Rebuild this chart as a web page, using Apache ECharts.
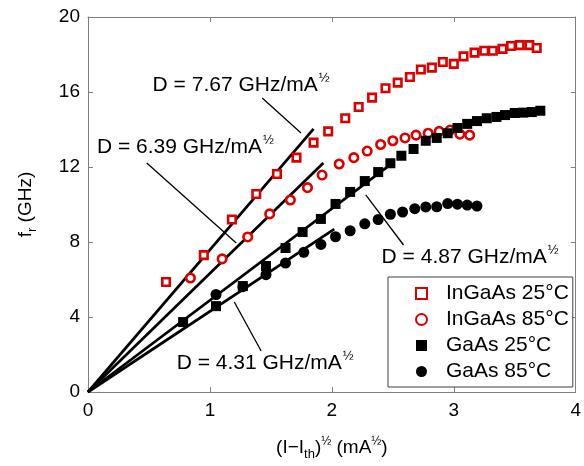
<!DOCTYPE html>
<html><head><meta charset="utf-8">
<script src="https://cdn.jsdelivr.net/npm/echarts@6/dist/echarts.min.js"></script>
<style>html,body{margin:0;padding:0;background:#fff}#c{width:584px;height:466px}</style>
</head><body><div id="c"></div>
<script>
const seriesNames = ['InGaAs 25°C', 'InGaAs 85°C', 'GaAs 25°C', 'GaAs 85°C'];

const ingaas25X = [0.64,0.95,1.18,1.38,1.55,1.71,1.85,1.97,2.11,2.22,2.33,2.44,2.54,2.64,2.73,2.82,2.91,3.00,3.08,3.17,3.25,3.32,3.40,3.47,3.54,3.62,3.68];
const ingaas25Y = [5.87,7.30,9.20,10.56,11.63,12.50,13.30,13.90,14.60,15.20,15.70,16.20,16.50,16.80,17.20,17.30,17.60,17.50,17.90,18.10,18.20,18.20,18.30,18.45,18.50,18.50,18.35];

const ingaas85X = [0.84,1.10,1.31,1.49,1.66,1.80,1.92,2.06,2.18,2.29,2.40,2.50,2.60,2.69,2.79,2.88,2.97,3.05,3.13];
const ingaas85Y = [6.08,7.10,8.27,9.50,10.24,10.90,11.57,12.16,12.50,12.85,13.20,13.40,13.55,13.70,13.80,13.90,13.97,13.75,13.70];

const gaas25X = [0.78,1.05,1.27,1.46,1.62,1.76,1.91,2.03,2.15,2.27,2.38,2.48,2.57,2.67,2.77,2.86,2.95,3.03,3.11,3.19,3.27,3.35,3.42,3.50,3.57,3.64,3.71];
const gaas25Y = [3.73,4.58,5.65,6.72,7.68,8.53,9.23,10.03,10.67,11.25,11.73,12.20,12.60,12.96,13.40,13.55,13.80,14.08,14.30,14.45,14.60,14.67,14.77,14.88,14.90,14.93,15.00];

const gaas85X = [1.05,1.27,1.46,1.62,1.77,1.91,2.03,2.15,2.27,2.38,2.48,2.58,2.68,2.77,2.86,2.95,3.03,3.11,3.19];
const gaas85Y = [5.20,5.62,6.26,6.88,7.45,7.87,8.28,8.60,8.97,9.20,9.48,9.60,9.78,9.87,9.88,10.05,10.02,9.97,9.92];

// linear fits through origin: D values and end points
const fitD = ['7.67', '6.39', '4.87', '4.31'];
const fitEndX = [1.85, 1.93, 2.51, 2.02];
const fitEndY = [14.03, 12.21, 12.27, 8.69];

// annotation label anchors (left, middle) and leader lines, in data units
const labelX = [0.53, 0.073, 2.408, 0.727];
const labelY = [16.37, 13.07, 7.20, 1.55];
const leaderFrom = [[1.429, 15.68], [0.482, 12.21], [2.278, 10.51], [1.20, 4.80]];
const leaderTo = [[1.747, 13.81], [1.216, 7.95], [2.588, 7.84], [1.42, 2.19]];

const xTicks = [0, 1, 2, 3, 4];
const yTicks = [0, 4, 8, 12, 16, 20];

const FONT = '"Liberation Sans", Arial, sans-serif';
const RED = '#dc0000';
const zip = (a, b) => a.map((v, i) => [v, b[i]]);

const chart = echarts.init(document.getElementById('c'), null, {renderer: 'canvas'});

const axisCommon = {
  axisLine: {show: true, onZero: false, lineStyle: {color: '#808080', width: 1}},
  axisTick: {show: true, inside: true, length: 5, lineStyle: {color: '#808080'}},
  splitLine: {show: false}
};

const xBase = {type: 'value', min: xTicks[0], max: xTicks[xTicks.length - 1], interval: xTicks[1] - xTicks[0]};
const yBase = {type: 'value', min: yTicks[0], max: yTicks[yTicks.length - 1], interval: yTicks[1] - yTicks[0]};

const series = [];
fitD.forEach((d, i) => {
  series.push({
    name: 'fit' + i, type: 'line', silent: true, symbol: 'none', z: 3,
    data: [[0, 0], [fitEndX[i], fitEndY[i]]],
    lineStyle: {color: '#000', width: 2.7}
  });
});
leaderFrom.forEach((p, i) => {
  series.push({
    name: 'lead' + i, type: 'line', silent: true, symbol: 'none', z: 3,
    data: [p, leaderTo[i]],
    lineStyle: {color: '#000', width: 1.3}
  });
});
series.push(
  {name: seriesNames[0], type: 'scatter', symbol: 'rect', symbolSize: 7.5, z: 4,
   data: zip(ingaas25X, ingaas25Y),
   itemStyle: {color: '#fff', borderColor: RED, borderWidth: 2.6, opacity: 1}},
  {name: seriesNames[1], type: 'scatter', symbol: 'circle', symbolSize: 8.5, z: 4,
   data: zip(ingaas85X, ingaas85Y),
   itemStyle: {color: '#fff', borderColor: RED, borderWidth: 2.6, opacity: 1}},
  {name: seriesNames[2], type: 'scatter', symbol: 'rect', symbolSize: 10, z: 4,
   data: zip(gaas25X, gaas25Y),
   itemStyle: {color: '#000', borderWidth: 0, opacity: 1}},
  {name: seriesNames[3], type: 'scatter', symbol: 'circle', symbolSize: 11, z: 4,
   data: zip(gaas85X, gaas85Y),
   itemStyle: {color: '#000', borderWidth: 0, opacity: 1}}
);

const option = {
  animation: false,
  backgroundColor: '#fff',
  textStyle: {fontFamily: FONT},
  grid: {left: 88, right: 6, top: 17, bottom: 74, show: false},
  legend: {
    data: seriesNames.map(n => ({name: n})),
    orient: 'vertical', left: 388, top: 277,
    padding: [6, 4, 5, 27],
    itemWidth: 11, itemHeight: 11, itemGap: 5,
    borderColor: '#404040', borderWidth: 1, backgroundColor: '#fff',
    formatter: n => '{t|' + n + '}',
    textStyle: {fontFamily: FONT, fontSize: 21, color: '#000', lineHeight: 20,
      rich: {t: {fontFamily: FONT, fontSize: 21, color: '#000', lineHeight: 20, padding: [0, 0, 0, 14]}}},
    selectedMode: false
  },
  xAxis: [
    Object.assign({}, xBase, axisCommon, {
      position: 'bottom',
      axisLabel: {fontFamily: FONT, fontSize: 19, color: '#000', margin: 9},
      name: '(I\u2212I{sub|th}){sup|\u00bd} (mA{sup|\u00bd})',
      nameLocation: 'middle', nameGap: 42,
      nameTextStyle: {fontFamily: FONT, fontSize: 19, color: '#000',
        rich: {sub: {fontSize: 13, fontFamily: FONT, color: '#000', padding: [14, 0, 0, 0]},
               sup: {fontSize: 12, fontFamily: FONT, color: '#000', padding: [0, 0, 12, 0]}}}
    }),
    Object.assign({}, xBase, axisCommon, {position: 'top', axisLabel: {show: false}})
  ],
  yAxis: [
    Object.assign({}, yBase, axisCommon, {
      position: 'left',
      axisLabel: {fontFamily: FONT, fontSize: 19, color: '#000', margin: 8},
      name: 'f{sub|r} (GHz)',
      nameLocation: 'middle', nameGap: 49, nameRotate: 90,
      nameTextStyle: {fontFamily: FONT, fontSize: 19, color: '#000',
        rich: {sub: {fontSize: 13, fontFamily: FONT, color: '#000', padding: [14, 0, 0, 0]}}}
    }),
    Object.assign({}, yBase, axisCommon, {position: 'right', axisLabel: {show: false}})
  ],
  series: series
};
chart.setOption(option);

const graphics = fitD.map((d, i) => {
  const p = chart.convertToPixel({xAxisIndex: 0, yAxisIndex: 0}, [labelX[i], labelY[i]]);
  return {
    type: 'text', x: p[0], y: p[1], z: 10,
    style: {
      text: 'D = ' + d + ' GHz/mA{s|\u00bd}',
      fontFamily: FONT, fontSize: 21, fill: '#000',
      align: 'left', verticalAlign: 'middle',
      rich: {s: {fontSize: 13, fontFamily: FONT, fill: '#000', padding: [0, 0, 14, 1]}}
    }
  };
});
chart.setOption({graphic: graphics});
</script>
</body></html>
